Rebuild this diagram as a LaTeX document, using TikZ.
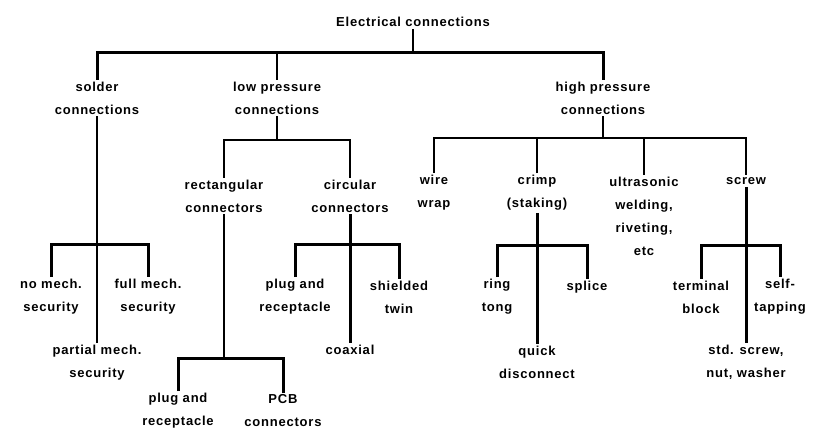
\documentclass[tikz,border=0pt]{standalone}
\usepackage{fontspec}
\setmainfont{Liberation Sans}
\newfontfamily\lblfont[LetterSpace=6]{Liberation Sans}
\usetikzlibrary{positioning}
\tikzset{
  lbl/.style={align=center,inner sep=2pt,font=\lblfont\bfseries\fontsize{13}{23}\selectfont},
  thin tree/.style={line width=1.6pt},
  thick tree/.style={line width=3pt},
}

\begin{document}
\begin{tikzpicture}[x=1pt,y=-1pt]
  \useasboundingbox (0,0) rectangle (814,429);
  % top level
  \node[lbl] (root) at (413,22) {Electrical connections};
  \node[lbl] (solder) at (97,98) {solder\\connections};
  \node[lbl] (low) at (277,98) {low pressure\\connections};
  \node[lbl] (high) at (603,98) {high pressure\\connections};
  \coordinate (topbar) at (413,52);
  \draw[thin tree] (root.south) -- (topbar);
  \draw[thick tree] (solder.north) |- (topbar) -| (high.north);
  \draw[thin tree] (low.north) -- (low.north |- topbar);

  % solder branch
  \node[lbl] (nomech) at (51,297) {no mech.\\security};
  \node[lbl] (fullmech) at (148,297) {full mech.\\security};
  \node[lbl] (partial) at (97,363) {partial mech.\\security};
  \coordinate (soldbar) at (97,244);
  \draw[thin tree] (solder.south) -- (solder.south |- partial.north);
  \draw[thick tree] (nomech.north) |- (soldbar) -| (fullmech.north);

  % low pressure branch
  \node[lbl] (rect) at (224,196) {rectangular\\connectors};
  \node[lbl] (circ) at (350,196) {circular\\connectors};
  \coordinate (lowbar) at (277,140);
  \draw[thin tree] (low.south) -- (lowbar);
  \draw[thin tree] (rect.north) |- (lowbar) -| (circ.north);

  \node[lbl] (rplug) at (178,411) {plug and\\receptacle};
  \node[lbl] (pcb) at (283,411) {PCB\\connectors};
  \coordinate (rectbar) at (224,358);
  \draw[thin tree] (rect.south) -- (rectbar);
  \draw[thick tree] (rplug.north) |- (rectbar) -| (pcb.north);

  \node[lbl] (cplug) at (295,297) {plug and\\receptacle};
  \node[lbl] (shield) at (399,297) {shielded\\twin};
  \node[lbl] (coax) at (350,350) {coaxial};
  \coordinate (circbar) at (350,244);
  \draw[thick tree] (circ.south) -- (circ.south |- coax.north);
  \draw[thick tree] (cplug.north) |- (circbar) -| (shield.north);

  % high pressure branch
  \node[lbl] (wire) at (434,193) {wire\\wrap};
  \node[lbl] (crimp) at (537,193) {crimp\\(staking)};
  \node[lbl] (ultra) at (644,216) {ultrasonic\\welding,\\riveting,\\etc};
  \node[lbl] (screw) at (746,181) {screw};
  \coordinate (highbar) at (603,138);
  \draw[thin tree] (high.south) -- (highbar);
  \draw[thin tree] (wire.north) |- (highbar) -| (screw.north);
  \foreach \n in {crimp,ultra}
    \draw[thin tree] (\n.north) -- (\n.north |- highbar);

  \node[lbl] (ring) at (497,297) {ring\\tong};
  \node[lbl] (splice) at (587,287) {splice};
  \node[lbl] (quick) at (537,362) {quick\\disconnect};
  \coordinate (crimpbar) at (537,245);
  \draw[thick tree] (crimp.south) -- (crimp.south |- quick.north);
  \draw[thick tree] (ring.north) |- (crimpbar) -| (splice.north);

  \node[lbl] (term) at (701,297) {terminal\\block};
  \node[lbl] (self) at (780,297) {self-\\tapping};
  \node[lbl] (std) at (746,362) {std. screw,\\nut, washer};
  \coordinate (screwbar) at (746,245);
  \draw[thick tree] (screw.south) -- (screw.south |- std.north);
  \draw[thick tree] (term.north) |- (screwbar) -| (self.north);
\end{tikzpicture}
\end{document}
